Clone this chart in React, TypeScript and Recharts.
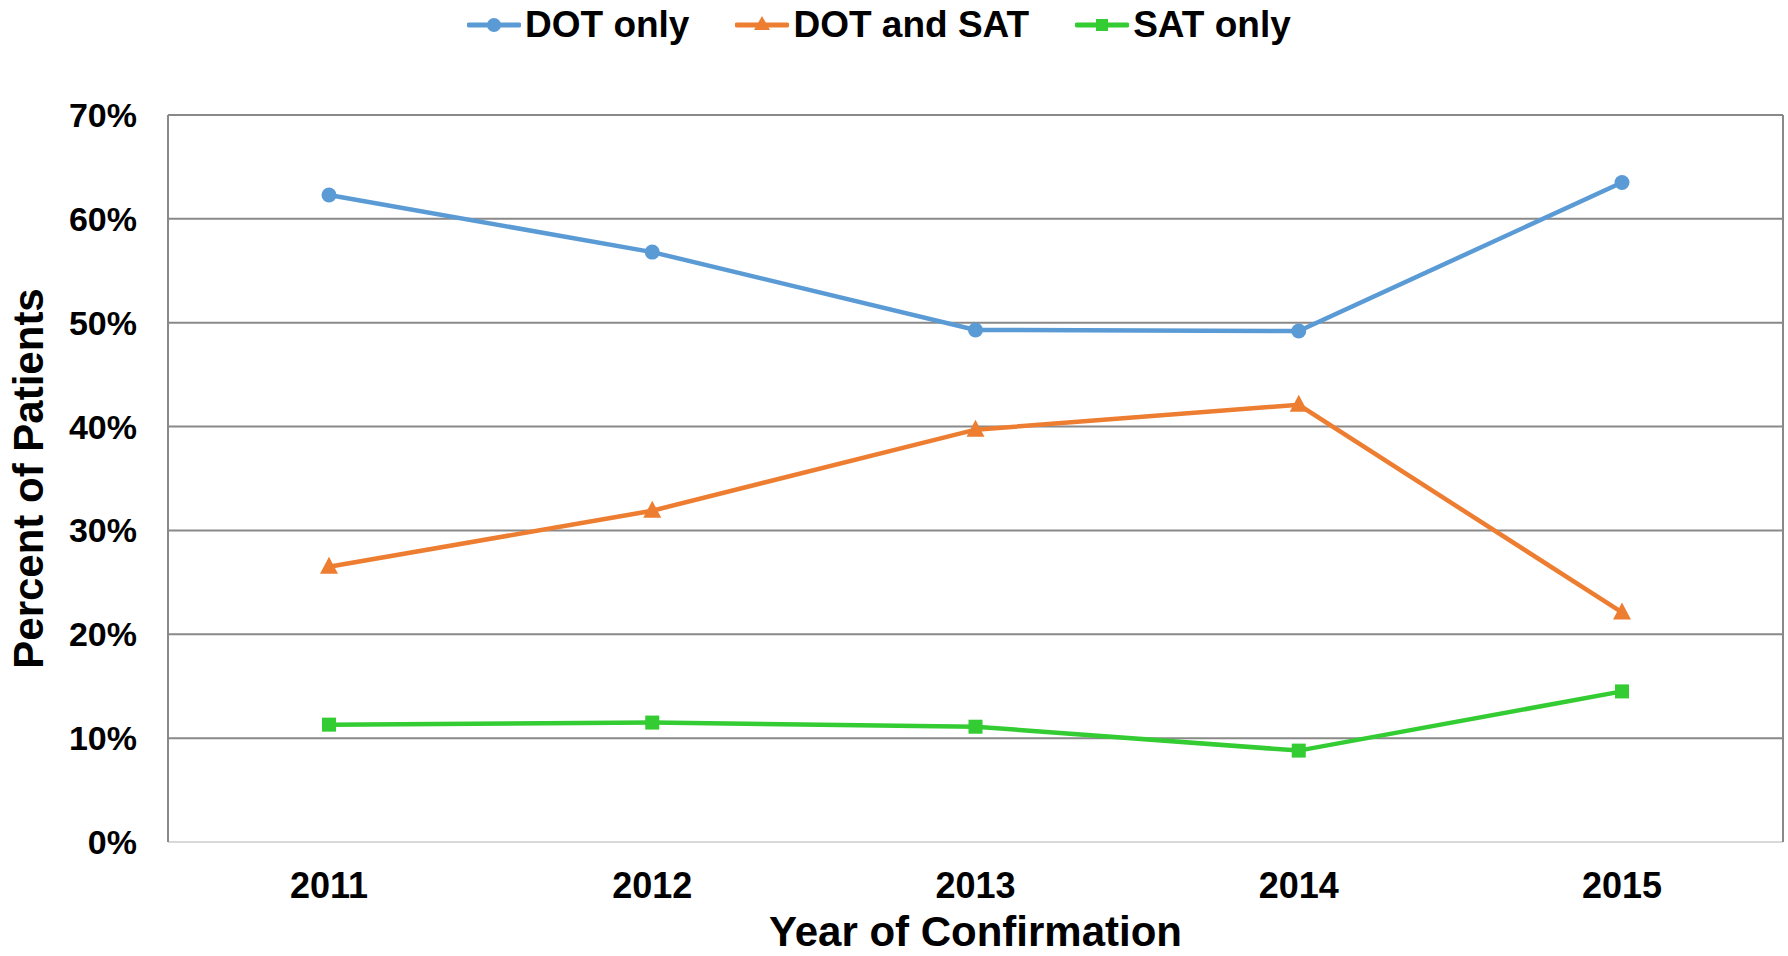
import { CartesianGrid, Label, Legend, Line, LineChart, XAxis, YAxis } from 'recharts'

document.body.style.margin = '0'

const years = ['2011', '2012', '2013', '2014', '2015']
const dotOnly = [62.3, 56.8, 49.3, 49.2, 63.5]
const dotAndSat = [26.5, 31.9, 39.7, 42.1, 22.1]
const satOnly = [11.3, 11.5, 11.1, 8.8, 14.5]
const yTicks = [0, 10, 20, 30, 40, 50, 60, 70]

const data = years.map((year, i) => ({
    year,
    dotOnly: dotOnly[i],
    dotAndSat: dotAndSat[i],
    satOnly: satOnly[i],
}))

const BLUE = '#5B9BD5'
const ORANGE = '#ED7D31'
const GREEN = '#33CC33'
const FONT = '"Liberation Sans", Arial, sans-serif'

const circleDot = (p: any) => <circle key={`c${p.index}`} cx={p.cx} cy={p.cy} r={7.5} fill={BLUE} />
const triangleDot = (p: any) => (
    <polygon
        key={`t${p.index}`}
        points={`${p.cx},${p.cy - 10} ${p.cx - 9},${p.cy + 7} ${p.cx + 9},${p.cy + 7}`}
        fill={ORANGE}
    />
)
const squareDot = (p: any) => <rect key={`s${p.index}`} x={p.cx - 7} y={p.cy - 7} width={14} height={14} fill={GREEN} />

const legendItems = [
    { label: 'DOT only', color: BLUE, shape: 'circle' },
    { label: 'DOT and SAT', color: ORANGE, shape: 'triangle' },
    { label: 'SAT only', color: GREEN, shape: 'square' },
]

function LegendIcon({ color, shape }: { color: string; shape: string }) {
    return (
        <svg width={54} height={20} style={{ marginRight: 4 }}>
            <line x1={2} y1={10} x2={52} y2={10} stroke={color} strokeWidth={5} strokeLinecap="round" />
            {shape === 'circle' && <circle cx={27} cy={10} r={7} fill={color} />}
            {shape === 'triangle' && <polygon points="27,1 19,15 35,15" fill={color} />}
            {shape === 'square' && <rect x={21} y={4} width={12} height={12} fill={color} />}
        </svg>
    )
}

function ChartLegend() {
    return (
        <div
            style={{
                height: 50,
                display: 'flex',
                alignItems: 'center',
                paddingLeft: 467,
                fontFamily: FONT,
                fontWeight: 'bold',
                fontSize: 37,
                color: '#000',
            }}
        >
            {legendItems.map((item) => (
                <div key={item.label} style={{ display: 'flex', alignItems: 'center', marginRight: 46 }}>
                    <LegendIcon color={item.color} shape={item.shape} />
                    <span>{item.label}</span>
                </div>
            ))}
        </div>
    )
}

export default function App() {
    const yTickStyle = { fontFamily: FONT, fontWeight: 'bold', fontSize: 34, fill: '#000' }
    const xTickStyle = { fontFamily: FONT, fontWeight: 'bold', fontSize: 36, fill: '#000' }
    return (
        <LineChart width={1788} height={956} data={data} margin={{ top: 65, right: 0, bottom: 0, left: 8 }}>
            <Legend
                verticalAlign="top"
                content={<ChartLegend />}
                wrapperStyle={{ top: 0, left: 0, width: 1788 }}
            />
            <CartesianGrid vertical={false} stroke="#898989" strokeWidth={2} />
            <XAxis
                dataKey="year"
                height={114}
                padding={{ left: 161, right: 161 }}
                tickLine={false}
                axisLine={{ stroke: '#D9D9D9', strokeWidth: 2 }}
                tick={xTickStyle}
                tickMargin={24}
            >
                <Label
                    content={({ viewBox }: any) => (
                        <text
                            x={viewBox.x + viewBox.width / 2}
                            y={viewBox.y + 104}
                            textAnchor="middle"
                            style={{ fontFamily: FONT, fontWeight: 'bold', fontSize: 42, fill: '#000' }}
                        >
                            Year of Confirmation
                        </text>
                    )}
                />
            </XAxis>
            <YAxis
                width={160}
                domain={[0, 70]}
                ticks={yTicks}
                interval={0}
                tickFormatter={(v) => `${v}%`}
                tickLine={false}
                axisLine={{ stroke: '#898989', strokeWidth: 2 }}
                tick={yTickStyle}
                tickMargin={25}
            >
                <Label
                    content={({ viewBox }: any) => {
                        const x = 43
                        const y = viewBox.y + viewBox.height / 2
                        return (
                            <text
                                x={x}
                                y={y}
                                textAnchor="middle"
                                transform={`rotate(-90 ${x} ${y})`}
                                style={{ fontFamily: FONT, fontWeight: 'bold', fontSize: 42, fill: '#000' }}
                            >
                                Percent of Patients
                            </text>
                        )
                    }}
                />
            </YAxis>
            <YAxis
                yAxisId="frame"
                orientation="right"
                width={5}
                tick={false}
                tickLine={false}
                axisLine={{ stroke: '#898989', strokeWidth: 2 }}
            />
            <Line
                dataKey="dotOnly"
                name="DOT only"
                stroke={BLUE}
                strokeWidth={4.5}
                dot={circleDot}
                isAnimationActive={false}
            />
            <Line
                dataKey="dotAndSat"
                name="DOT and SAT"
                stroke={ORANGE}
                strokeWidth={4.5}
                dot={triangleDot}
                isAnimationActive={false}
            />
            <Line
                dataKey="satOnly"
                name="SAT only"
                stroke={GREEN}
                strokeWidth={4.5}
                dot={squareDot}
                isAnimationActive={false}
            />
        </LineChart>
    )
}
